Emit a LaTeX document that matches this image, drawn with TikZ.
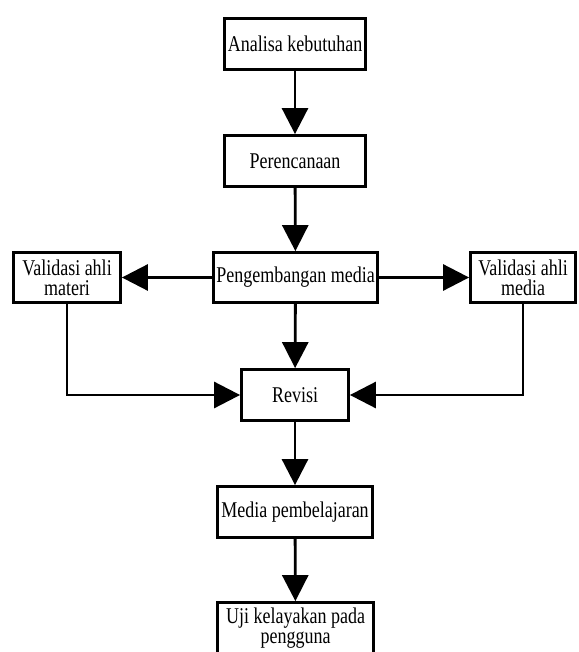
\documentclass[tikz,border=0pt]{standalone}
\usepackage{fontspec}
\setmainfont{Liberation Serif}
\usepackage{graphicx}
\usetikzlibrary{arrows.meta}
\newcommand{\nq}[1]{\scalebox{0.8}[1]{#1}}
\begin{document}
\begin{tikzpicture}[x=1pt,y=-1pt,
  box/.style={draw, line width=2.8pt, rectangle, inner sep=0pt, align=center,
    font=\fontsize{22.5}{20}\selectfont},
  arr/.style={line width=2.8pt, -{Triangle[width=26pt,length=26pt]}}]
\useasboundingbox (0,0) rectangle (578,652);
\clip (0,0) rectangle (578,652);
\node[box, minimum width=141pt, minimum height=51pt] (b1) at (295,44) {\nq{Analisa kebutuhan}};
\node[box, minimum width=141pt, minimum height=51pt] (b2) at (295,161) {\nq{Perencanaan}};
\node[box, minimum width=164pt, minimum height=50pt] (b3) at (295.5,277.5) {\nq{Pengembangan media}};
\node[box, minimum width=107pt, minimum height=50pt] (bl) at (67,277.5) {\nq{Validasi ahli}\\\nq{materi}};
\node[box, minimum width=105pt, minimum height=50pt] (br) at (523,277.5) {\nq{Validasi ahli}\\\nq{media}};
\node[box, minimum width=107pt, minimum height=51pt] (rev) at (295,395) {\nq{Revisi}};
\node[box, minimum width=155pt, minimum height=51pt] (mp) at (295,512) {\nq{Media pembelajaran}};
\node[box, minimum width=156pt, minimum height=51pt] (uji) at (295.5,628) {\nq{Uji kelayakan pada}\\\nq{pengguna}};
\draw[arr] (b1) -- (b2);
\draw[arr] (b2) -- (b3);
\draw[arr] (b3) -- (bl);
\draw[arr] (b3) -- (br);
\draw[arr] (b3) -- (rev);
\draw[arr] (bl.south) |- (rev.west);
\draw[arr] (br.south) |- (rev.east);
\draw[arr] (rev) -- (mp);
\draw[arr] (mp) -- (uji);
\end{tikzpicture}
\end{document}
